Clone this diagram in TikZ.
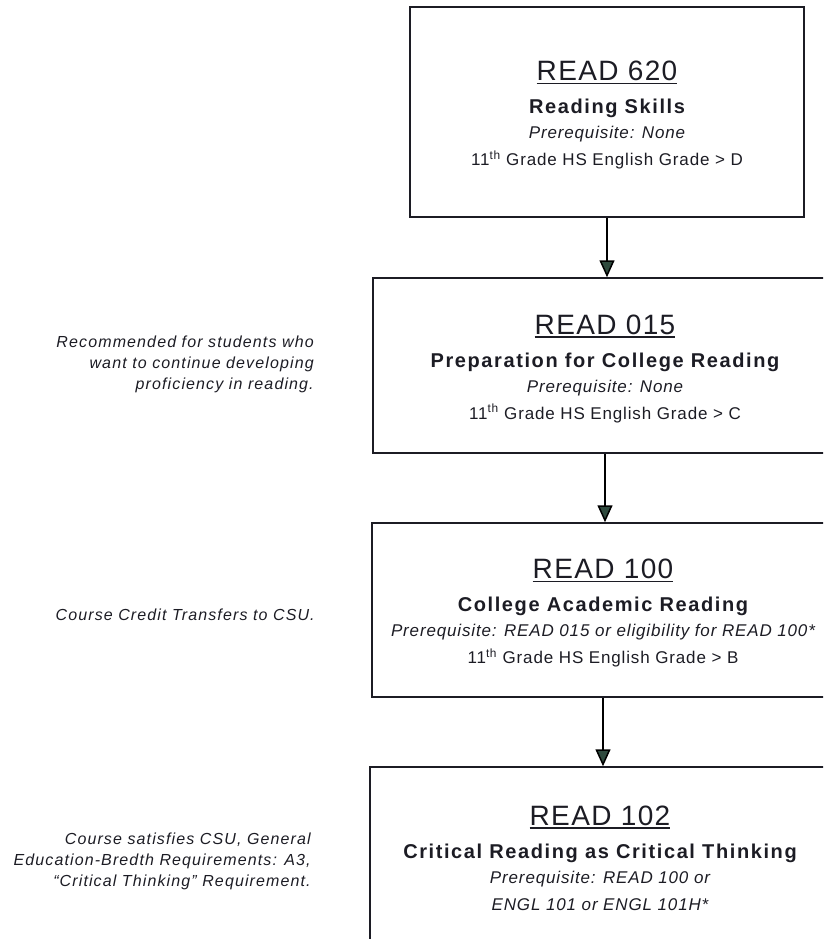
\documentclass[tikz,border=0pt]{standalone}
\usepackage{fontspec}
\setmainfont{Liberation Sans}
\usetikzlibrary{arrows.meta,positioning}

\definecolor{arrowgreen}{HTML}{2F4A3E}
\definecolor{inkdark}{HTML}{1C1C24}

% fonts of the lines in a course box
\newcommand{\codefont}{\mdseries\upshape\fontsize{28}{26}\selectfont\addfontfeatures{LetterSpace=5}}
\newcommand{\namefont}{\bfseries\upshape\fontsize{20}{26}\selectfont\addfontfeatures{LetterSpace=8}}
\newcommand{\prereqfont}{\mdseries\itshape\fontsize{17}{26}\selectfont\addfontfeatures{LetterSpace=5}}
\newcommand{\gradefont}{\mdseries\upshape\fontsize{17}{26}\selectfont\addfontfeatures{LetterSpace=5}}

% underlined course code
\newcommand{\coursecode}[1]{%
  \setbox0\hbox{#1}\rlap{\rule[-3.5pt]{\wd0}{1.6pt}}\box0}

\begin{document}
\begin{tikzpicture}[
    x=1pt,
    y=-1pt,
    course/.style={draw=inkdark, line width=1.5pt, align=center,
                   inner sep=0pt, text=inkdark,
                   font=\fontsize{17}{26}\selectfont},
    note/.style={align=right, text=inkdark,
                 font=\itshape\fontsize{16}{21}\selectfont\addfontfeatures{LetterSpace=7}},
    flow/.style={draw=black, line width=1.5pt,
                 -{Triangle[width=15pt,length=17pt,fill=arrowgreen]}}
]

% =========================================================
% Рамка листа
% =========================================================

\useasboundingbox (0,0) rectangle (823,939);
\clip (0,0) rectangle (823,939);

% =========================================================
% Курсы
% =========================================================

\node[course, minimum width=394pt, minimum height=210pt] (r620) at (607,112) {%
    \codefont\rule{0pt}{26pt}\coursecode{READ 620}\\[7pt]
    \namefont Reading Skills\\[-1pt]
    \prereqfont Prerequisite: None\\[1pt]
    \gradefont 11\textsuperscript{th} Grade HS English Grade > D};

\node[course, minimum width=464pt, minimum height=175pt] (r015) at (605,365.5) {%
    \codefont\rule{0pt}{26pt}\coursecode{READ 015}\\[7pt]
    \namefont Preparation for College Reading\\[-1pt]
    \prereqfont Prerequisite: None\\[1pt]
    \gradefont 11\textsuperscript{th} Grade HS English Grade > C};

\node[course, minimum width=462pt, minimum height=174pt] (r100) at (603,610) {%
    \codefont\rule{0pt}{26pt}\coursecode{READ 100}\\[7pt]
    \namefont College Academic Reading\\[-1pt]
    \prereqfont Prerequisite: READ 015 or eligibility for READ 100*\\[1pt]
    \gradefont 11\textsuperscript{th} Grade HS English Grade > B};

\node[course, minimum width=460pt, minimum height=182pt] (r102) at (600,858) {%
    \codefont\coursecode{READ 102}\\[7pt]
    \namefont Critical Reading as Critical Thinking\\[-1pt]
    \prereqfont Prerequisite: READ 100 or\\[1pt]
    \prereqfont ENGL 101 or ENGL 101H*};

% =========================================================
% Стрелки
% =========================================================

\draw[flow] (r620.south) -- (r620.south |- r015.north);
\draw[flow] (r015.south) -- (r015.south |- r100.north);
\draw[flow] (r100.south) -- (r100.south |- r102.north);

% =========================================================
% Примечания слева
% =========================================================

\node[note, left=55pt of r015.west, yshift=1pt] (noteA) {%
    Recommended for students who\\
    want to continue developing\\
    proficiency in reading.};

\node[note, left=53pt of r100.west, yshift=-5pt] (noteB) {%
    Course Credit Transfers to CSU.};

\node[note, left=55pt of r102.west, yshift=-3pt] (noteC) {%
    Course satisfies CSU, General\\
    Education-Bredth Requirements: A3,\\
    “Critical Thinking” Requirement.};

\end{tikzpicture}
\end{document}
